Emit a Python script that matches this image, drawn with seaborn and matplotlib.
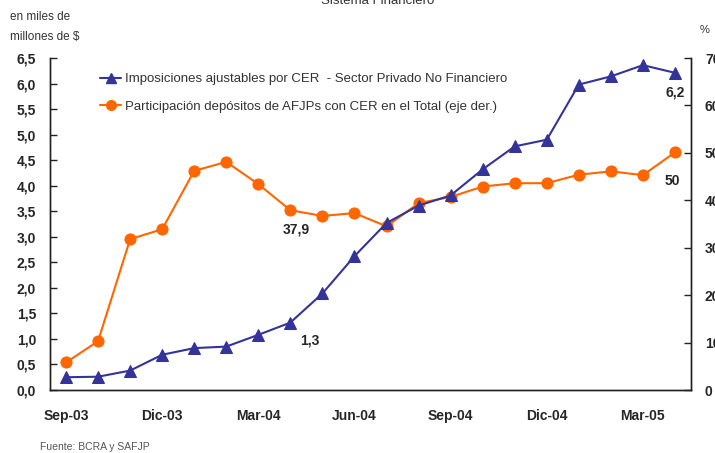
import numpy as np
import pandas as pd
import seaborn as sns
import matplotlib.pyplot as plt
from matplotlib.lines import Line2D

# monthly series, Sep-03 .. Apr-05
months = ['Sep-03', 'Oct-03', 'Nov-03', 'Dic-03', 'Ene-04', 'Feb-04', 'Mar-04', 'Abr-04',
          'May-04', 'Jun-04', 'Jul-04', 'Ago-04', 'Sep-04', 'Oct-04', 'Nov-04', 'Dic-04',
          'Ene-05', 'Feb-05', 'Mar-05', 'Abr-05']
imposiciones = [0.25, 0.26, 0.38, 0.69, 0.82, 0.85, 1.08, 1.32, 1.89, 2.62,
                3.27, 3.61, 3.81, 4.32, 4.77, 4.90, 5.98, 6.14, 6.36, 6.21]
participacion = [5.8, 10.3, 31.8, 33.9, 46.2, 48.1, 43.4, 37.9, 36.7, 37.3,
                 34.5, 39.4, 40.7, 42.9, 43.6, 43.6, 45.4, 46.1, 45.3, 50.1]
shown_ticks = ['Sep-03', 'Dic-03', 'Mar-04', 'Jun-04', 'Sep-04', 'Dic-04', 'Mar-05']

lbl_blue = 'Imposiciones ajustables por CER  - Sector Privado No Financiero'
lbl_orange = 'Participación depósitos de AFJPs con CER en el Total (eje der.)'

df = pd.DataFrame({'pos': np.arange(len(months)), 'mes': months,
                   'imp': imposiciones, 'part': participacion})

sns.set_style('white')
plt.rcParams['font.family'] = ['Liberation Sans', 'DejaVu Sans']

blue = '#333399'
orange = '#FF6600'

fig = plt.figure(figsize=(7.15, 4.53), dpi=100)
ax = fig.add_axes([50 / 715, 1 - 390 / 453, 641 / 715, 332 / 453])
ax2 = ax.twinx()

sns.lineplot(data=df, x='pos', y='part', ax=ax2, color=orange, marker='o',
             markersize=8, markeredgecolor=orange, linewidth=1.5, legend=False)
sns.lineplot(data=df, x='pos', y='imp', ax=ax, color=blue, marker='^',
             markersize=8, markeredgecolor=blue, linewidth=1.5, legend=False)
ax.set_zorder(ax2.get_zorder() + 1)
ax.patch.set_visible(False)

ax.set_xlim(-0.5, len(months) - 0.5)
ax.set_ylim(0, 6.5)
ax2.set_ylim(0, 70)
ax.set_yticks(np.arange(0, 6.51, 0.5))
ax.set_yticklabels([f'{v:.1f}'.replace('.', ',') for v in np.arange(0, 6.51, 0.5)])
ax2.set_yticks(np.arange(0, 71, 10))

ax.set_xticks(np.arange(len(months)) + 0.5)
ax.set_xticklabels([])
ax.set_xticks([months.index(m) for m in shown_ticks], minor=True)
ax.set_xticklabels(shown_ticks, minor=True)

for a in (ax, ax2):
    a.set_xlabel('')
    a.set_ylabel('')
    a.spines['top'].set_visible(False)
    for s in ('left', 'right', 'bottom'):
        a.spines[s].set_color('#222222')
        a.spines[s].set_linewidth(1)
    a.tick_params(axis='both', which='major', direction='in', length=5, width=1,
                  color='#222222', labelsize=10)
    for t in a.get_yticklabels() + a.get_xticklabels(minor=True):
        t.set_fontweight('bold')
ax.tick_params(axis='y', pad=10)
ax2.tick_params(axis='y', pad=10)
ax.tick_params(axis='x', which='minor', length=0, pad=14, labelsize=10)

# value labels
bold = dict(fontsize=10, fontweight='bold', ha='center', va='center',
            textcoords='offset pixels')
ax2.annotate('37,9', xy=(7, participacion[7]), xytext=(6, -19), **bold)
ax.annotate('1,3', xy=(7, imposiciones[7]), xytext=(19, -18), **bold)
ax.annotate('6,2', xy=(19, imposiciones[19]), xytext=(0, -20), **bold)
ax2.annotate('50', xy=(19, participacion[19]), xytext=(-3, -29), **bold)

handles = [Line2D([], [], color=blue, marker='^', markersize=7, linewidth=1.5),
           Line2D([], [], color=orange, marker='o', markersize=7, linewidth=1.5)]
ax.legend(handles, [lbl_blue, lbl_orange], loc='upper left',
          bbox_to_anchor=(0.06, 0.99), frameon=False, fontsize=9.5,
          handlelength=1.6, handletextpad=0.3, labelspacing=1.15,
          labelcolor='#333333')

fig.text(378 / 715, 1 - 1 / 453, 'Sistema Financiero', ha='center', va='center',
         fontsize=9.5, color='#333333')
fig.text(10 / 715, 1 - 17 / 453, 'en miles de', ha='left', va='center',
         fontsize=8.5, color='#333333')
fig.text(10 / 715, 1 - 37 / 453, 'millones de $', ha='left', va='center',
         fontsize=8.5, color='#333333')
fig.text(705 / 715, 1 - 30 / 453, '%', ha='center', va='center',
         fontsize=8, color='#333333')
fig.text(40 / 715, 1 - 447 / 453, 'Fuente: BCRA y SAFJP', ha='left', va='center',
         fontsize=7.5, color='#555555')

fig.savefig('out.png', dpi=100)
